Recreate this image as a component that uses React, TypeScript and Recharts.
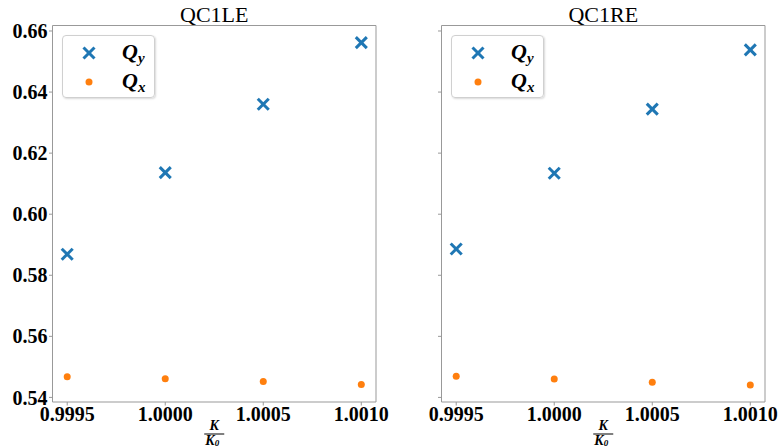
import React from 'react';
import {
  ScatterChart, Scatter, XAxis, YAxis, Legend,
} from 'recharts';

const K_RATIO = [0.9995, 1.0, 1.0005, 1.001];
const LE_QY = [0.5869, 0.6136, 0.636, 0.6562];
const LE_QX = [0.5468, 0.5461, 0.5452, 0.5442];
const RE_QY = [0.5886, 0.6134, 0.6344, 0.6538];
const RE_QX = [0.5469, 0.546, 0.545, 0.5441];
const Y_TICKS = [0.54, 0.56, 0.58, 0.6, 0.62, 0.64, 0.66];
const X_TICKS = [0.9995, 1.0, 1.0005, 1.001];

const X_DOMAIN = [0.999425, 1.001075];
const Y_DOMAIN = [0.5385, 0.6618];

const BLUE = '#1f77b4';
const ORANGE = '#ff7f0e';
const SPINE = '#999';
const SERIF = '"Liberation Serif", "DejaVu Serif", serif';

const tickStyle = { fill: '#000', fontSize: 20, fontWeight: 700, fontFamily: SERIF };

function Cross(props: any) {
  const { cx, cy } = props;
  const a = 5.5;
  return (
    <g stroke={BLUE} strokeWidth={3}>
      <line x1={cx - a} y1={cy - a} x2={cx + a} y2={cy + a} />
      <line x1={cx - a} y1={cy + a} x2={cx + a} y2={cy - a} />
    </g>
  );
}

function Dot(props: any) {
  const { cx, cy } = props;
  return <circle cx={cx} cy={cy} r={3.5} fill={ORANGE} />;
}

function QLabel({ sub }: { sub: string }) {
  return (
    <span style={{ fontFamily: SERIF, fontWeight: 700, fontStyle: 'italic', fontSize: 22 }}>
      Q<sub style={{ fontSize: 15, verticalAlign: '-4px' }}>{sub}</sub>
    </span>
  );
}

function LegendBox() {
  const row = { display: 'flex', alignItems: 'center', height: 29 } as const;
  return (
    <div
      style={{
        width: 93,
        height: 63,
        boxSizing: 'border-box',
        border: '1px solid #d0d0d0',
        borderRadius: 4,
        background: 'rgba(255,255,255,0.85)',
        boxShadow: '1px 1px 2px rgba(0,0,0,0.15)',
        paddingTop: 2,
      }}
    >
      <div style={row}>
        <svg width={59} height={20}>
          <Cross cx={26} cy={10} />
        </svg>
        <QLabel sub="y" />
      </div>
      <div style={row}>
        <svg width={59} height={20}>
          <Dot cx={26} cy={10} />
        </svg>
        <QLabel sub="x" />
      </div>
    </div>
  );
}

function Title(props: any) {
  const { viewBox, value } = props;
  return (
    <text
      x={viewBox.x + viewBox.width / 2}
      y={22}
      textAnchor="middle"
      style={{ fontFamily: SERIF, fontSize: 22, fill: '#000' }}
    >
      {value}
    </text>
  );
}

function FracLabel(props: any) {
  const { viewBox } = props;
  const cx = viewBox.x + viewBox.width / 2;
  const st = { fontFamily: SERIF, fontSize: 14, fontWeight: 700, fontStyle: 'italic', fill: '#000' } as const;
  return (
    <g>
      <text x={cx} y={430} textAnchor="middle" style={st}>K</text>
      <line x1={cx - 10} x2={cx + 10} y1={434} y2={434} stroke="#000" strokeWidth={1} />
      <text x={cx - 2} y={445} textAnchor="middle" style={st}>
        K<tspan fontSize={9} dy={1}>0</tspan>
      </text>
    </g>
  );
}

function Panel({ title, qy, qx, yLabels }: { title: string; qy: number[]; qx: number[]; yLabels: boolean }) {
  const qyData = K_RATIO.map((k, i) => ({ k, v: qy[i] }));
  const qxData = K_RATIO.map((k, i) => ({ k, v: qx[i] }));
  return (
    <ScatterChart width={390} height={447} margin={{ top: 0, right: 0, bottom: 0, left: 0 }}>
      <XAxis
        xAxisId="bottom"
        type="number"
        dataKey="k"
        domain={X_DOMAIN}
        ticks={X_TICKS}
        allowDataOverflow
        height={45}
        tickFormatter={(v: number) => v.toFixed(4)}
        tick={tickStyle}
        tickSize={3.5}
        tickMargin={1.5}
        tickLine={{ stroke: SPINE }}
        axisLine={{ stroke: SPINE }}
        interval={0}
        label={<FracLabel />}
      />
      <XAxis
        xAxisId="top"
        orientation="top"
        type="number"
        dataKey="k"
        domain={X_DOMAIN}
        allowDataOverflow
        height={25.5}
        tick={false}
        tickLine={false}
        axisLine={{ stroke: SPINE }}
        label={<Title value={title} />}
      />
      <YAxis
        yAxisId="left"
        type="number"
        dataKey="v"
        domain={Y_DOMAIN}
        ticks={Y_TICKS}
        allowDataOverflow
        width={52.5}
        tickFormatter={(v: number) => (yLabels ? v.toFixed(2) : '')}
        tick={tickStyle}
        tickSize={3.5}
        tickMargin={1.5}
        tickLine={{ stroke: SPINE }}
        axisLine={{ stroke: SPINE }}
        interval={0}
      />
      <YAxis
        yAxisId="right"
        orientation="right"
        type="number"
        dataKey="v"
        domain={Y_DOMAIN}
        allowDataOverflow
        width={14}
        tick={false}
        tickLine={false}
        axisLine={{ stroke: SPINE }}
      />
      <Legend
        layout="vertical"
        align="center"
        verticalAlign="middle"
        content={() => <LegendBox />}
        wrapperStyle={{ left: 62, top: 35, width: 93, height: 63 }}
      />
      <Scatter
        name="Qy"
        data={qyData}
        xAxisId="bottom"
        yAxisId="left"
        shape={<Cross />}
        isAnimationActive={false}
      />
      <Scatter
        name="Qx"
        data={qxData}
        xAxisId="bottom"
        yAxisId="left"
        shape={<Dot />}
        isAnimationActive={false}
      />
    </ScatterChart>
  );
}

export default function App() {
  return (
    <div style={{ position: 'absolute', left: 0, top: 0, width: 781, height: 447, background: '#fff', overflow: 'hidden' }}>
      <div style={{ position: 'absolute', left: 0, top: 0 }}>
        <Panel title="QC1LE" qy={LE_QY} qx={LE_QX} yLabels />
      </div>
      <div style={{ position: 'absolute', left: 389, top: 0 }}>
        <Panel title="QC1RE" qy={RE_QY} qx={RE_QX} yLabels={false} />
      </div>
    </div>
  );
}
